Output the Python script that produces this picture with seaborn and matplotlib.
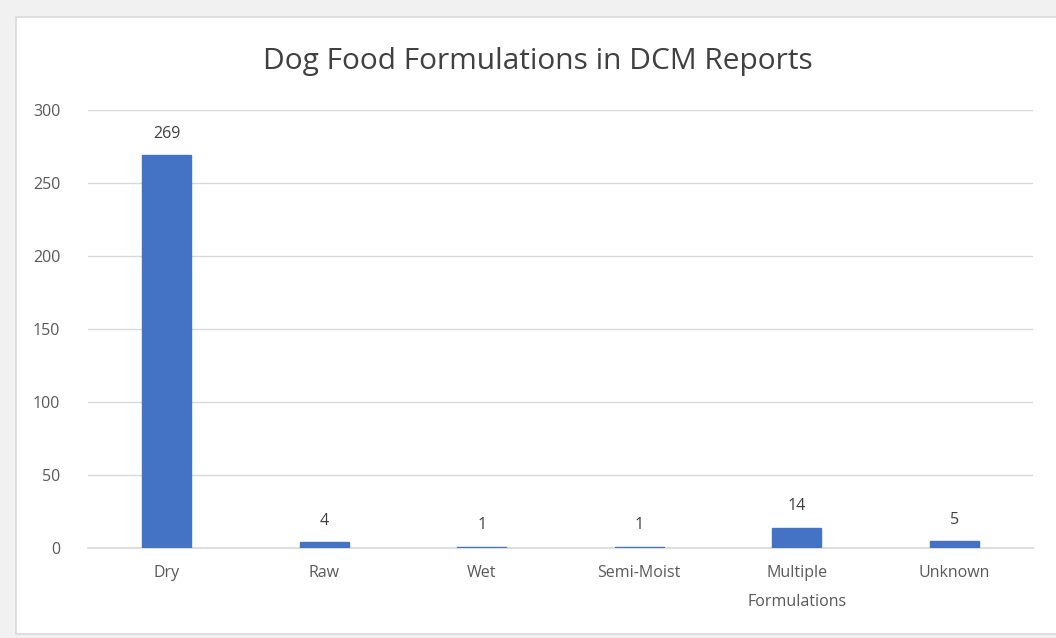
import matplotlib
matplotlib.use("Agg")
import matplotlib.pyplot as plt
import seaborn as sns
import pandas as pd
from matplotlib.patches import Rectangle

categories = ["Dry", "Raw", "Wet", "Semi-Moist", "Multiple\nFormulations", "Unknown"]
reports = [269, 4, 1, 1, 14, 5]

df = pd.DataFrame({"formulation": categories, "reports": reports})

sns.set_theme(style="white")
plt.rcParams["font.family"] = ["Open Sans", "DejaVu Sans"]

fig = plt.figure(figsize=(10.56, 6.38), dpi=100, facecolor="#f1f1f1")
# white chart area with a thin grey border
fig.patches.append(Rectangle((16 / 1056, 4 / 638), 1.0, 617 / 638, transform=fig.transFigure,
                             facecolor="white", edgecolor="#d9d9d9", linewidth=1.2, zorder=-10))

ax = fig.add_axes([88 / 1056, 90 / 638, 945 / 1056, 438 / 638])
ax.set_facecolor("none")
ax.set_zorder(5)

sns.barplot(data=df, x="formulation", y="reports", color="#4472C4", width=0.31,
            saturation=1, edgecolor="#4472C4", linewidth=1.0, ax=ax, zorder=3)

for i, v in enumerate(reports):
    ax.text(i, v + 9, str(v), ha="center", va="bottom", fontsize=11.5, color="#404040")

ax.set_ylim(0, 300)
ax.set_xlim(-0.5, len(categories) - 0.5)
ax.set_yticks(range(0, 301, 50))
ax.yaxis.grid(True, color="#d9d9d9", linewidth=1)
ax.set_axisbelow(True)
for s in ["top", "right", "left"]:
    ax.spines[s].set_visible(False)
ax.spines["bottom"].set_color("#d9d9d9")
ax.tick_params(axis="both", length=0, labelsize=11.5, colors="#595959")
ax.tick_params(axis="y", pad=20)
ax.tick_params(axis="x", pad=12)
for lbl in ax.get_xticklabels():
    lbl.set_linespacing(2.1)
ax.set_xlabel("")
ax.set_ylabel("")

fig.text(538 / 1056, 1 - 61 / 638, "Dog Food Formulations in DCM Reports", ha="center",
         va="center", fontsize=21.5, color="#404040")

fig.savefig("out.png", dpi=100, facecolor=fig.get_facecolor())
